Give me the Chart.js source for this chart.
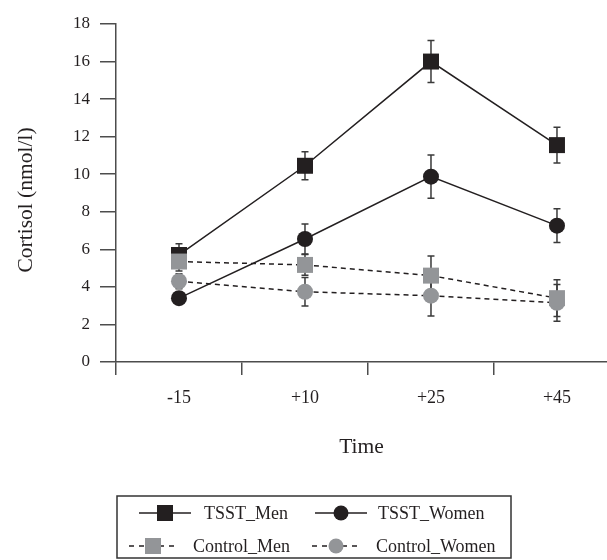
<!DOCTYPE html>
<html>
<head>
<meta charset="utf-8">
<script src="https://cdn.jsdelivr.net/npm/chart.js@4/dist/chart.umd.min.js"></script>
<style>
  html, body { margin: 0; padding: 0; background: #fff; overflow: hidden; }
  #wrap { width: 607px; height: 560px; }
</style>
</head>
<body>
<div id="wrap"><canvas id="cortisol"></canvas></div>
<script>
// Cortisol over time, TSST vs control, men vs women
const timeLabels = ['-15', '+10', '+25', '+45']
const tsstMen = [5.7, 10.45, 16.0, 11.55]
const tsstMenErr = [0.6, 0.75, 1.12, 0.95]
const tsstWomen = [3.4, 6.55, 9.87, 7.26]
const tsstWomenErr = [0.3, 0.8, 1.15, 0.9]
const controlMen = [5.35, 5.17, 4.6, 3.4]
const controlMenErr = [0.5, 0.55, 1.05, 0.98]
const controlWomen = [4.3, 3.74, 3.53, 3.15]
const controlWomenErr = [0.4, 0.76, 1.08, 0.98]

const black = '#231f20'
const grey = '#939598'
const serif = "'Liberation Serif', 'DejaVu Serif', serif"

const toXY = vals => vals.map((v, i) => ({ x: i, y: v }))

const datasets = [
	{ label: 'TSST_Men', data: toXY(tsstMen), err: tsstMenErr, pointStyle: 'rect', pointRadius: 11.3, color: black, dash: [], order: 1 },
	{ label: 'TSST_Women', data: toXY(tsstWomen), err: tsstWomenErr, pointStyle: 'circle', pointRadius: 8, color: black, dash: [], order: 1 },
	{ label: 'Control_Men', data: toXY(controlMen), err: controlMenErr, pointStyle: 'rect', pointRadius: 11.3, color: grey, dash: [5, 4], order: 0 },
	{ label: 'Control_Women', data: toXY(controlWomen), err: controlWomenErr, pointStyle: 'circle', pointRadius: 8, color: grey, dash: [5, 4], order: 0 }
].map(d => ({
	...d,
	borderColor: black,
	borderWidth: 1.5,
	borderDash: d.dash,
	backgroundColor: d.color,
	pointBackgroundColor: d.color,
	pointBorderColor: d.color,
	pointBorderWidth: 0,
	pointHoverRadius: d.pointRadius,
	tension: 0,
	fill: false
}))

// error bars, under the markers
const errorBars = {
	id: 'errorBars',
	beforeDatasetsDraw(chart) {
		const ctx = chart.ctx
		const x = chart.scales.x, y = chart.scales.y
		ctx.save()
		ctx.strokeStyle = '#3a3a3a'
		ctx.lineWidth = 1.5
		chart.data.datasets.forEach(ds => {
			ds.data.forEach((p, i) => {
				const px = x.getPixelForValue(p.x)
				const top = y.getPixelForValue(p.y + ds.err[i])
				const bot = y.getPixelForValue(p.y - ds.err[i])
				ctx.beginPath()
				ctx.moveTo(px, top); ctx.lineTo(px, bot)
				ctx.moveTo(px - 3.5, top); ctx.lineTo(px + 3.5, top)
				ctx.moveTo(px - 3.5, bot); ctx.lineTo(px + 3.5, bot)
				ctx.stroke()
			})
		})
		ctx.restore()
	}
}

// y axis title, placed by hand
const yTitle = {
	id: 'yTitle',
	afterDraw(chart) {
		const ctx = chart.ctx
		ctx.save()
		ctx.translate(26, 200)
		ctx.rotate(-Math.PI / 2)
		ctx.fillStyle = black
		ctx.font = '21.5px ' + serif
		ctx.textAlign = 'center'
		ctx.textBaseline = 'middle'
		ctx.fillText('Cortisol (nmol/l)', 0, 0)
		ctx.restore()
	}
}

// boxed legend with line + marker samples
const boxLegend = {
	id: 'boxLegend',
	afterDraw(chart) {
		const ctx = chart.ctx
		ctx.save()
		ctx.strokeStyle = '#333'
		ctx.lineWidth = 1.5
		ctx.strokeRect(117, 496, 394, 62)
		const slots = [
			{ x1: 139, x2: 191, tx: 204, y: 513 },
			{ x1: 315, x2: 367, tx: 378, y: 513 },
			{ x1: 129, x2: 177, tx: 193, y: 546 },
			{ x1: 312, x2: 360, tx: 376, y: 546 }
		]
		chart.data.datasets.forEach((ds, i) => {
			const s = slots[i]
			const cx = (s.x1 + s.x2) / 2
			ctx.strokeStyle = black
			ctx.lineWidth = 1.5
			ctx.setLineDash(ds.dash.length ? [5, 5] : [])
			ctx.beginPath()
			ctx.moveTo(s.x1, s.y); ctx.lineTo(s.x2, s.y)
			ctx.stroke()
			ctx.setLineDash([])
			ctx.fillStyle = ds.color
			if (ds.pointStyle === 'rect') {
				ctx.fillRect(cx - 8, s.y - 8, 16, 16)
			} else {
				ctx.beginPath()
				ctx.arc(cx, s.y, 7.5, 0, Math.PI * 2)
				ctx.fill()
			}
			ctx.fillStyle = black
			ctx.font = '18px ' + serif
			ctx.textBaseline = 'middle'
			ctx.textAlign = 'left'
			ctx.fillText(ds.label, s.tx, s.y + 1)
		})
		ctx.restore()
	}
}

const config = {
	type: 'line',
	data: { datasets: datasets },
	plugins: [errorBars, yTitle, boxLegend],
	options: {
		responsive: true,
		maintainAspectRatio: false,
		animation: false,
		layout: { autoPadding: false, padding: { top: 24, right: 0, bottom: 65, left: 0 } },
		plugins: { legend: { display: false }, tooltip: { enabled: false } },
		scales: {
			x: {
				type: 'linear',
				min: -0.5,
				max: 3.397,
				afterBuildTicks: scale => {
					scale.ticks = [-0.5, 0, 0.5, 1, 1.5, 2, 2.5, 3].map(v => ({ value: v }))
				},
				afterFit: scale => {
					scale.height = 133
					scale.paddingLeft = 0
					scale.paddingRight = 0
				},
				border: { display: true, color: '#4d4d4d', width: 1.5 },
				grid: {
					drawOnChartArea: false,
					tickLength: 13,
					lineWidth: 1.5,
					color: c => Number.isInteger(c.tick && c.tick.value) ? 'rgba(0,0,0,0)' : '#4d4d4d'
				},
				ticks: {
					autoSkip: false,
					maxRotation: 0,
					padding: 12,
					color: black,
					font: { family: serif, size: 18 },
					callback: v => Number.isInteger(v) ? timeLabels[v] : ''
				},
				title: {
					display: true,
					text: 'Time',
					color: black,
					font: { family: serif, size: 21.5 },
					padding: { top: 4, bottom: 35 }
				}
			},
			y: {
				min: 0,
				max: 18,
				afterFit: scale => { scale.width = 116 },
				border: { display: true, color: '#4d4d4d', width: 1.5 },
				grid: { drawOnChartArea: false, tickLength: 16, lineWidth: 1.5, color: '#4d4d4d' },
				ticks: {
					stepSize: 2,
					padding: 10,
					color: black,
					font: { family: serif, size: 17 }
				}
			}
		}
	}
}

const cortisolChart = new Chart(document.getElementById('cortisol'), config)
</script>
</body>
</html>
